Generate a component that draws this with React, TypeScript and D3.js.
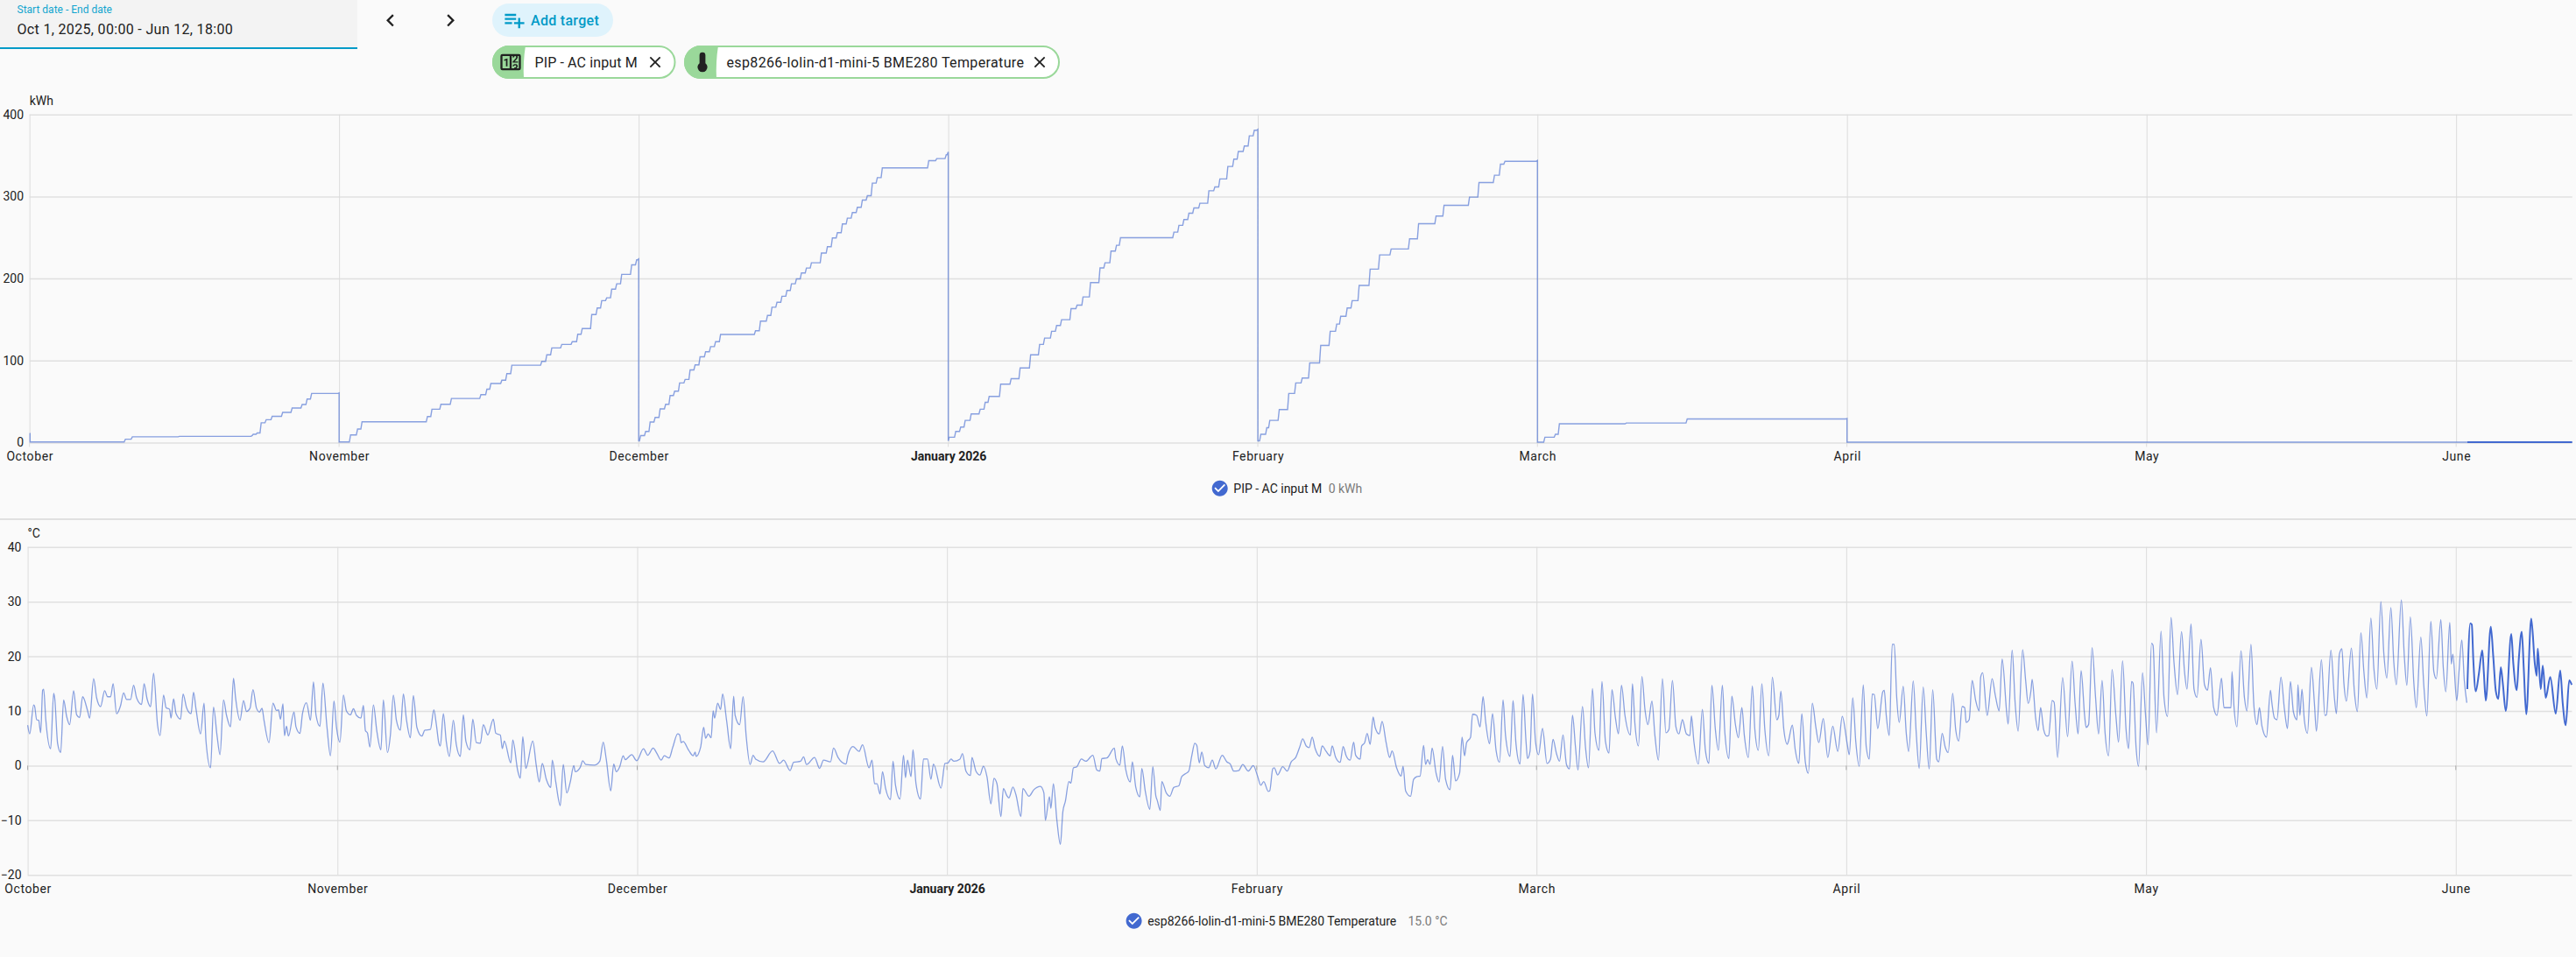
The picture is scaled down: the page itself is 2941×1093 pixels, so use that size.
// @ts-nocheck
import React from "react";
import * as d3 from "d3";

const DAY = 86400000;

// month starts shown on the time axis
const monthStarts = [[2025, 9], [2025, 10], [2025, 11], [2026, 0], [2026, 1], [2026, 2], [2026, 3], [2026, 4], [2026, 5]];
const monthLabels = ["October", "November", "December", "January 2026", "February", "March", "April", "May", "June"];
const energyTicks = [0, 100, 200, 300, 400];
const tempTicks = [-20, -10, 0, 10, 20, 30, 40];
const rangeStart = Date.UTC(2025, 9, 1);
const rangeEnd = Date.UTC(2026, 5, 12, 15);
const recentFrom = Date.UTC(2026, 5, 2, 3.6);

// energy, kWh: [days into the month, value], value holds until the next row
const energyOct = [[0, 11], [0.05, 0.7], [9.6, 4], [10.3, 7], [15, 7.5], [22.3, 8.5], [22.4, 10], [22.8, 11.7], [23.2, 24], [23.7, 27.8], [24.3, 32], [25.35, 36.7], [26.3, 42], [27.3, 46.3], [27.8, 53], [28.25, 59.8], [31, 60.5]];
const energyNov = [[0, 0.7], [1.15, 9.3], [1.85, 16.4], [2.3, 25.3], [8.85, 31.7], [9.3, 40.6], [10.2, 46.6], [11.25, 53.7], [14.2, 58.4], [14.8, 65], [15.2, 71.9], [16.3, 76], [16.8, 84], [17.3, 94.3], [20.3, 99], [20.8, 107], [21.3, 115.3], [22.3, 119.6], [23.35, 123], [23.9, 132], [24.35, 139], [25.3, 156], [25.85, 164], [26.3, 173], [26.8, 176.5], [27.3, 187], [27.8, 193.6], [28.3, 205], [29.3, 216.7], [29.8, 222.8], [30, 224]];
const energyDec = [[0, 2], [0.2, 8.5], [0.7, 13.5], [1.15, 25], [1.65, 30.6], [2.15, 41], [2.7, 46.6], [3.15, 57.3], [3.6, 62.6], [4.1, 72.6], [4.65, 76.9], [5.15, 88.6], [5.65, 94.7], [6.15, 104.6], [6.7, 110.7], [7.2, 117], [7.7, 123], [8.2, 131.7], [11.7, 136.3], [12.2, 148], [12.9, 155], [13.35, 165], [13.85, 171], [14.35, 178.3], [14.85, 185.4], [15.3, 193.6], [15.8, 199.6], [16.3, 206.8], [16.8, 212.8], [17.3, 219.2], [18.3, 231], [18.9, 238.8], [19.4, 249.5], [19.9, 255.9], [20.4, 266.5], [20.9, 273.7], [21.4, 280.4], [21.9, 286.8], [22.4, 295.7], [22.9, 301], [23.4, 316.4], [23.9, 323], [24.4, 334.9], [29.05, 343.8], [29.85, 346.3], [30.8, 351], [31, 354.4]];
const energyJan = [[0, 2], [0.1, 6.4], [0.75, 13.5], [1.25, 18.9], [1.7, 27], [2.3, 34.9], [3.2, 40.6], [3.7, 49], [4.1, 56.2], [5.25, 71.2], [6.3, 77.9], [7.2, 91], [8.25, 107], [9.15, 119.6], [9.65, 127.4], [10.35, 135.6], [10.85, 142.7], [11.35, 149.8], [12.3, 163.3], [12.9, 167.6], [13.5, 177.6], [14.25, 195], [15.2, 213], [15.7, 219.2], [16.3, 233.5], [16.85, 240.6], [17.25, 249.8], [22.6, 256.6], [23.1, 264.8], [23.6, 271.9], [24.1, 279.7], [24.6, 286], [25.2, 291.8], [26.1, 307], [26.7, 311.7], [27.2, 321.4], [28, 336.7], [28.6, 345.6], [29.05, 355], [29.65, 361.6], [30.15, 374], [30.65, 380.8], [31, 382]];
const energyFeb = [[0, 2], [0.3, 10], [0.9, 18], [1.2, 27], [2.15, 40.2], [3.1, 59.8], [3.8, 72.6], [4.45, 78.6], [5.2, 97], [6.3, 118.5], [7.25, 135.6], [7.9, 144.5], [8.3, 154], [8.95, 164], [9.45, 173], [10.15, 191.5], [11.25, 211.4], [12.2, 228.8], [13.35, 236], [15.2, 248.4], [16.1, 266.9], [17.85, 276.2], [18.65, 289.3], [21.2, 299.3], [22.15, 317], [23.7, 326], [24.3, 339.5], [24.75, 343], [28, 344]];
const energyMar = [[0, 0.5], [0.75, 6.4], [1.8, 10], [2.2, 22.8], [8.9, 23.8], [15, 28.8], [31, 29.3]];
const energyRest = [[0, 0.5], [72.6, 0.5]];

// temperature, °C: [days into the month, value]
const tempOct = [[0, 7.4], [0.2, 5.8], [0.6, 11.1], [0.7, 10.8], [0.9, 8.4], [1.1, 8.3], [1.3, 6], [1.5, 13.8], [1.6, 14], [1.8, 8.7], [2.3, 3.1], [2.6, 13.2], [2.7, 12.4], [3, 4], [3.3, 2.4], [3.6, 12], [3.9, 9], [4.2, 7.5], [4.6, 13.7], [4.9, 9.3], [5.2, 8.8], [5.5, 12.6], [6, 10], [6.2, 8.7], [6.6, 15.9], [6.9, 12.4], [7.3, 10.8], [7.7, 13.7], [8, 12.6], [8.3, 12.6], [8.55, 15], [8.9, 9.5], [9.3, 11], [9.6, 13.3], [9.9, 12.1], [10.3, 12.1], [10.6, 14.7], [10.9, 12.4], [11.4, 11.2], [11.65, 15], [11.95, 12.2], [12.3, 10.8], [12.6, 16.9], [13, 7.4], [13.25, 5.5], [13.6, 12.9], [13.85, 10.6], [14.2, 10.3], [14.35, 8.7], [14.6, 12.2], [14.85, 9.5], [15.3, 8.5], [15.55, 13.1], [15.9, 10.6], [16.35, 9.5], [16.6, 13.4], [16.85, 10.3], [17.3, 5.8], [17.65, 11.4], [17.85, 4.4], [18.3, -0.4], [18.6, 10.7], [18.95, 5.5], [19.25, 2], [19.6, 12], [19.9, 9.2], [20.3, 7.1], [20.6, 16], [20.8, 12.5], [21.25, 8.3], [21.6, 11.9], [21.9, 9.9], [22.25, 10.5], [22.55, 13.9], [22.9, 10.5], [23.2, 9.8], [23.45, 10.5], [23.65, 8.3], [24.15, 4.2], [24.55, 11.4], [24.9, 10.1], [25.1, 10.2], [25.3, 8.5], [25.55, 11.3], [25.7, 5.5], [25.9, 7.2], [26.1, 5.4], [26.65, 9.8], [26.85, 7.1], [27.25, 5.9], [27.5, 9.5], [27.9, 11.5], [28.3, 8.3], [28.6, 15.3], [28.85, 9.3], [29.25, 7.2], [29.55, 15.1], [29.95, 7.1], [30.3, 1.8], [30.65, 11.8], [30.9, 7.1]];
const tempNov = [[0.25, 4.3], [0.6, 12.9], [0.9, 10], [1.3, 9.3], [1.6, 10.4], [1.9, 9.2], [2.35, 8.7], [2.6, 11], [2.8, 6.4], [3, 6], [3.25, 3.4], [3.6, 11.1], [3.95, 6.2], [4.35, 2.9], [4.6, 12], [5, 2.4], [5.3, 5.6], [5.6, 12.9], [5.9, 8.3], [6.3, 6.5], [6.6, 13.1], [6.9, 8.5], [7.3, 5.1], [7.6, 12.8], [7.95, 7], [8.45, 5.4], [8.75, 6.5], [9.3, 6.6], [9.65, 10.2], [9.9, 7.5], [10.15, 4.1], [10.3, 3.6], [10.6, 9.5], [10.9, 4.3], [11.2, 1.7], [11.6, 8.3], [11.9, 3.8], [12.3, 1.7], [12.6, 9.3], [12.85, 4.5], [13.25, 2.9], [13.55, 8.5], [13.9, 4.2], [14.3, 4.1], [14.6, 7.5], [15.05, 5.6], [15.6, 8.5], [15.85, 5.9], [16.3, 5.6], [16.5, 3.1], [16.7, 4.5], [17.35, 0.5], [17.55, 4.7], [18.05, -1], [18.3, -2.3], [18.55, 5.3], [18.85, -0.5], [19.55, 4.5], [19.9, 0], [20.2, -3], [20.5, 0.4], [20.9, -2.5], [21.35, -4], [21.5, 1], [21.85, -3], [22.3, -7.3], [22.6, 0.2], [22.95, -5], [23.3, -3], [23.65, 0], [23.8, -1.1], [24.3, -0.3], [24.55, 0.9], [24.85, 0.2], [25.75, 0.1], [26.25, 0.8], [26.6, 4.3], [26.9, 1.2], [27.35, -4.6], [27.65, 0.3], [27.9, -1.1], [28.25, -0.2], [28.6, 1.8], [28.8, 1.1], [29.45, 2], [29.95, 0.9]];
const tempDec = [[0.63, 3.1], [1.05, 1.9], [1.6, 3.2], [1.95, 2.3], [2.4, 1], [2.7, 1.8], [3.2, 1.4], [3.55, 3.3], [4.05, 5.8], [4.25, 5.6], [4.4, 4.2], [4.6, 4.4], [5.15, 2.8], [5.6, 1.8], [5.8, 2.5], [5.9, 1.7], [6.35, 3.4], [6.65, 7], [6.85, 5], [7.1, 5.8], [7.4, 5.1], [7.6, 10], [7.75, 8.7], [8.05, 11.4], [8.35, 10.3], [8.55, 13.1], [8.95, 8.2], [9.35, 3.1], [9.65, 12.7], [9.8, 9.2], [10.25, 7.5], [10.6, 12.6], [10.9, 5.5], [11.3, 0.2], [11.6, 1.9], [11.85, 1.2], [12.6, 0.7], [13.55, 2.7], [14.25, 0.4], [14.65, 1], [15.3, -0.9], [15.65, 0.6], [16.35, 0.8], [16.65, 1.6], [16.95, 0.2], [17.75, 1.5], [18.25, -0.5], [18.65, 1], [19.35, 0.7], [19.65, 3.2], [20.1, 1.5], [20.9, 0.3], [21.1, 2], [21.6, 3.5], [22.2, 2.6], [22.55, 3.8], [23.2, -0.4], [23.5, 1], [23.75, -3.3], [24, -3.3], [24.3, -5.2], [24.55, -1.1], [24.85, -4.1], [25.35, -6.2], [25.6, 0.8], [25.85, -3.6], [26.3, -6.1], [26.65, 1.9], [26.85, -2.2], [27.05, 1], [27.4, -2], [27.6, 2.9], [27.9, -3.3], [28.35, -6.1], [28.65, 1.2], [29.05, 1.2], [29.4, -2.5], [29.65, 0.3], [30.4, -4.1], [30.8, 0.4]];
const tempJan = [[0.1, 0.5], [0.4, 1.2], [0.7, 0.8], [1.3, 1.2], [1.55, 2.2], [1.9, -1], [2.35, -1.8], [2.5, 1.5], [2.9, -1], [3.3, -1.7], [3.65, -0.1], [4, -2], [4.4, -7], [4.7, -2.3], [5, -3.3], [5.4, -9.3], [5.65, -4.2], [6, -5.5], [6.2, -5.9], [6.6, -3.9], [6.9, -5.3], [7.4, -9.3], [7.6, -4.2], [8.2, -5.6], [8.7, -4.4], [9.35, -3.8], [9.7, -5], [9.85, -10], [10.25, -5.7], [10.4, -7.8], [10.65, -3.3], [11, -10], [11.35, -14.4], [11.6, -8.4], [11.85, -6.5], [12.2, -2.9], [12.4, -3.2], [12.65, -0.4], [13, -0.2], [13.45, 1.2], [13.9, 0.8], [14.6, 1.9], [15, -0.8], [15.3, -1], [15.5, 1.3], [16, 1.4], [16.75, 3.2], [16.9, 1.3], [17.3, 0.1], [17.55, 3.6], [17.9, -0.8], [18.35, -3], [18.55, 0.7], [18.9, -4], [19.3, -5.7], [19.5, -0.5], [19.85, -4.7], [20.3, -8], [20.6, -0.2], [20.9, -5.5], [21.05, -6.4], [21.35, -8.2], [21.5, -2.9], [21.95, -5], [22.3, -5.6], [22.7, -4], [23.2, -3.7], [23.5, -2], [23.85, -1.5], [24.2, -1], [24.5, 1.8], [24.8, 4.1], [25, 3.7], [25.25, 0.5], [25.5, 2.5], [25.8, 0], [26.2, -0.4], [26.55, 1], [26.9, -0.6], [27.55, 1.9], [28, 0.7], [28.35, 0.3], [28.7, -1], [29.2, -0.9], [29.6, 0.2], [30.15, -1], [30.65, 0]];
const tempFeb = [[0.1, -2], [0.4, -3.6], [0.7, -2.9], [1.15, -4.7], [1.3, -4.6], [1.6, -0.6], [1.75, -0.4], [2.1, -1.7], [2.6, -0.2], [3.05, -1], [3.45, 0.7], [3.9, 1.5], [4.3, 3.4], [4.6, 4.9], [4.95, 3.6], [5.25, 3.3], [5.55, 5.2], [5.85, 3.1], [6.3, 1.7], [6.55, 3.6], [6.95, 2.6], [7.35, 1.8], [7.55, 3.6], [7.9, 1.5], [8.35, 0.6], [8.65, 3.5], [8.95, 1.8], [9.35, 1], [9.7, 4.3], [9.9, 1.9], [10.35, 1.2], [10.5, 3.6], [10.8, 4.2], [11.05, 5.9], [11.35, 3.9], [11.65, 8.9], [11.85, 7], [12.25, 5.8], [12.55, 8.1], [12.95, 4.2], [13.3, 1.5], [13.55, 2.7], [14, -0.4], [14.45, -1.9], [14.65, -0.1], [14.9, -4.6], [15.4, -5.6], [15.7, -2.5], [16.05, -2], [16.35, -1.9], [16.7, 3.7], [16.9, 0.2], [17.1, 1.1], [17.35, 0.2], [17.55, 3.2], [17.95, -1.4], [18.25, -3], [18.6, 3.5], [18.9, -2.5], [19.35, -4.4], [19.6, 1.9], [19.9, -2.8], [20.3, -1.4], [20.55, 5.2], [20.8, 1.8], [21, 4.2], [21.4, 5.2], [21.6, 9.4], [22, 9.2], [22.35, 7.1], [22.65, 12.6], [22.9, 8.2], [23.3, 4], [23.6, 9.5], [23.95, 2.8], [24.3, 0.6], [24.65, 12], [24.9, 5.5], [25.35, 1.7], [25.65, 11.9], [25.95, 3.9], [26.35, 0.3], [26.65, 13], [26.95, 4.4], [27.1, 1.3], [27.35, 2.6], [27.6, 13.1], [27.9, 4.4]];
const tempMar = [[0.2, 2], [0.6, 6.8], [1.05, 0.4], [1.4, 1.2], [1.65, 4.8], [2, 2.2], [2.3, 0.8], [2.65, 5.6], [3, 0.2], [3.3, -0.6], [3.6, 9.2], [3.9, 3.4], [4.15, -0.8], [4.6, 10.8], [4.9, 3.4], [5.2, -0.4], [5.6, 14.1], [5.85, 6], [6.25, 2.8], [6.55, 15.4], [6.9, 4.4], [7.25, 2.3], [7.55, 13.9], [7.9, 8.7], [8.2, 5.8], [8.5, 14.7], [8.85, 9.2], [9.4, 5.6], [9.6, 15], [9.85, 7.6], [10.2, 3.6], [10.55, 16.3], [10.85, 10.3], [11.15, 7.5], [11.55, 11.8], [11.85, 5.5], [12.2, 1], [12.6, 15.9], [12.95, 6], [13.25, 6.6], [13.6, 15.6], [13.95, 7.1], [14.25, 5.8], [14.6, 8.4], [15, 5.8], [15.35, 5.5], [15.5, 9.1], [15.75, 4.4], [16.2, 0.3], [16.6, 10.3], [16.9, 2.8], [17.25, 0.4], [17.55, 14.7], [17.9, 6.6], [18.2, 2.8], [18.6, 14.7], [18.85, 6], [19.25, 1.3], [19.55, 12.7], [19.9, 7.6], [20.2, 5.1], [20.55, 10.6], [20.8, 5.5], [21.2, 1.5], [21.6, 14.6], [21.85, 6.6], [22.2, 2.8], [22.55, 15], [22.85, 6.6], [23.25, 1.8], [23.6, 16.2], [24.05, 8.4], [24.25, 9.2], [24.45, 13.6], [24.75, 6.6], [25.1, 3.9], [25.2, 4.4], [25.6, 7.4], [25.9, 2.8], [26.25, 0.4], [26.55, 9.5], [26.9, 0.7], [27.2, -1.4], [27.6, 11.4], [27.95, 7.1], [28.25, 4.2], [28.7, 8.6], [29.15, 1.5], [29.65, 7.2], [30.15, 2.6], [30.6, 9]];
const tempApr = [[0.1, 3.9], [0.3, 2], [0.65, 12.4], [0.95, 4.4], [1.3, -0.1], [1.7, 14.8], [2, 3.4], [2.3, 1.2], [2.6, 13.1], [2.8, 13], [3.15, 6.8], [3.65, 13.5], [3.8, 13.8], [4, 9.2], [4.3, 5.5], [4.6, 22.2], [4.8, 22.2], [5.05, 12.4], [5.3, 7.9], [5.7, 14.5], [6, 6], [6.25, 2.6], [6.7, 15.5], [7, 6], [7.3, -0.5], [7.7, 14.4], [8, 6], [8.3, -0.6], [8.65, 13.9], [9.05, 1.2], [9.25, 0.7], [9.6, 5.9], [9.9, 3.4], [10.2, 2.4], [10.65, 13.2], [10.95, 6.6], [11.25, 4.5], [11.6, 10.8], [11.85, 10.6], [12, 7.9], [12.3, 8.4], [12.6, 15.6], [12.95, 11.9], [13.3, 10], [13.45, 16.2], [13.65, 17], [14.1, 9.2], [14.6, 15.9], [14.9, 13], [15.3, 10], [15.6, 19.5], [16.05, 9.8], [16.2, 7.6], [16.6, 21.1], [16.9, 11.4], [17.2, 6.3], [17.65, 21.2], [17.95, 15.6], [18.2, 11.4], [18.5, 14], [18.6, 15.8], [18.95, 8.7], [19.2, 6.4], [19.45, 10.6], [19.75, 6.6], [20.05, 5.4], [20.25, 5.5], [20.6, 11.9], [20.8, 11.6], [21.15, 1.5], [21.65, 16.1], [22.15, 5.3], [22.6, 19.1], [22.9, 11.4], [23.2, 5.8], [23.5, 17.4], [23.85, 9.2], [24, 7], [24.25, 7.5], [24.6, 21.6], [24.95, 12.4], [25.25, 5.8], [25.6, 15.6], [25.9, 6], [26.25, 1.8], [26.6, 17.6], [27, 8.7], [27.25, 4.3], [27.65, 19.2], [28, 6.6], [28.25, 3.1], [28.55, 15.4], [28.7, 15.1], [29, 3.4], [29.25, -0.1], [29.65, 17], [29.95, 9.2]];
const tempMay = [[0.2, 3.8], [0.55, 22.4], [0.7, 22], [1.05, 6], [1.5, 24.6], [1.8, 12.4], [2.15, 9], [2.5, 27.1], [2.8, 18.8], [3.15, 13], [3.55, 24.5], [3.85, 17.2], [4.1, 14], [4.5, 25.9], [4.8, 14], [5.1, 12.5], [5.5, 23.1], [5.85, 14.8], [6.15, 13.8], [6.45, 17.9], [6.75, 10.8], [7.1, 9.2], [7.55, 16], [7.8, 10.6], [8.5, 10.6], [8.6, 17.2], [8.8, 10.8], [9.1, 7.1], [9.5, 21], [9.85, 12.4], [10.1, 10], [10.5, 22.2], [10.8, 10.8], [11.1, 7.5], [11.35, 10.6], [11.6, 7.2], [12.05, 5.2], [12.45, 13.8], [12.6, 11.4], [12.85, 8.7], [13.1, 8.4], [13.5, 16.2], [13.85, 10.3], [14.15, 6.8], [14.45, 15.4], [14.75, 9.8], [15.1, 8.4], [15.2, 14.8], [15.4, 9.2], [15.6, 14], [15.85, 8.2], [16.15, 5.9], [16.55, 18], [16.85, 11.4], [17.05, 6.3], [17.55, 19.4], [17.9, 9.2], [18.05, 9.3], [18.5, 21.1], [18.85, 12.4], [19.05, 9.5], [19.35, 20.4], [19.6, 21.4], [19.8, 15.1], [20.05, 11.8], [20.55, 21.5], [20.85, 13.5], [21.15, 9.9], [21.5, 24.3], [21.8, 17.2], [22.1, 12.4], [22.5, 27], [22.8, 17.8], [23.1, 14], [23.5, 30], [23.8, 20.4], [24.1, 16], [24.5, 28.9], [24.8, 18.8], [25.05, 14.8], [25.55, 30.3], [25.85, 19.9], [26.1, 14.7], [26.45, 27.2], [26.8, 15.1], [27.05, 10.6], [27.5, 23.5], [27.8, 14.6], [28.1, 9.1], [28.5, 26.4], [28.8, 17.2], [29.05, 15.9], [29.5, 26.7], [29.75, 17.8], [30, 13.5], [30.4, 26.2], [30.55, 18.6], [30.7, 20.4]];
const tempJun = [[0.1, 11.9], [0.3, 16.7], [0.6, 23], [0.85, 15.6], [1.1, 11.5], [1.15, 14], [1.45, 26], [1.6, 25.8], [1.75, 19.4], [2, 13.6], [2.3, 16.7], [2.65, 21.1], [2.8, 17.2], [3, 11.9], [3.5, 25.4], [3.75, 19.9], [4, 13.7], [4.25, 12.2], [4.5, 18], [4.7, 15.1], [5, 10], [5.55, 24.1], [5.75, 18.8], [6.1, 13.8], [6.3, 19.4], [6.6, 24.5], [6.8, 17.8], [7.05, 9.4], [7.55, 26.9], [7.9, 18.8], [8.1, 16.4], [8.2, 21.4], [8.5, 14], [8.7, 18.3], [9, 12.4], [9.45, 16.2], [10, 9.5], [10.45, 17.4], [10.7, 11.4], [11, 7.4], [11.35, 15.6], [11.6, 14.8]];

const withDates = (rows, year, month) => rows.map(([d, v]) => ({ t: Date.UTC(year, month, 1) + d * DAY, v }));

const energyValues = [
  ...withDates(energyOct, 2025, 9), ...withDates(energyNov, 2025, 10), ...withDates(energyDec, 2025, 11),
  ...withDates(energyJan, 2026, 0), ...withDates(energyFeb, 2026, 1), ...withDates(energyMar, 2026, 2),
  ...withDates(energyRest, 2026, 3),
];
const tempValues = [
  ...withDates(tempOct, 2025, 9), ...withDates(tempNov, 2025, 10), ...withDates(tempDec, 2025, 11),
  ...withDates(tempJan, 2026, 0), ...withDates(tempFeb, 2026, 1), ...withDates(tempMar, 2026, 2),
  ...withDates(tempApr, 2026, 3), ...withDates(tempMay, 2026, 4), ...withDates(tempJun, 2026, 5),
];

const FONT = "Roboto, sans-serif";
const LINE = "#4269d0";
const PRIMARY = "#009ac7";
const GREEN = "#9ad89a";
const TEXT = "#212121";

const mdi = {
  left: "M15.41,16.58L10.83,12L15.41,7.41L14,6L8,12L14,18L15.41,16.58Z",
  right: "M8.59,16.58L13.17,12L8.59,7.41L10,6L16,12L10,18L8.59,16.58Z",
  addList: "M3 16H10V14H3M18 14V10H16V14H12V16H16V20H18V16H22V14M14 6H3V8H14M14 10H3V12H14V10Z",
  close: "M19,6.41L17.59,5L12,10.59L6.41,5L5,6.41L10.59,12L5,17.59L6.41,19L12,13.41L17.59,19L19,17.59L13.41,12L19,6.41Z",
  counter: "M4,4H20A2,2 0 0,1 22,6V18A2,2 0 0,1 20,20H4A2,2 0 0,1 2,18V6A2,2 0 0,1 4,4M4,6V18H11V6H4M20,18V6H18.76C19,6.54 18.95,7.07 18.95,7.13C18.88,7.8 18.41,8.5 18.24,8.75L15.91,11.3L19.23,11.28L19.24,12.5L14.04,12.47L14,11.47C14,11.47 17.05,8.24 17.2,7.95C17.34,7.67 17.91,6 16.5,6C15.27,6.05 15.41,7.3 15.41,7.3L13.87,7.31C13.87,7.31 13.88,6.65 14.25,6H13V18H15.58L15.57,17.14L16.54,17.13C16.54,17.13 17.45,16.97 17.46,16.08C17.5,15.08 16.65,15.08 16.5,15.08C16.37,15.08 15.43,15.13 15.43,15.95H13.91C13.91,15.95 13.95,13.89 16.5,13.89C19.1,13.89 18.96,15.91 18.96,15.91C18.96,15.91 19,17.16 17.85,17.63L18.37,18H20M8.92,16H7.42V10.2L5.62,10.76V9.53L8.76,8.41H8.92V16Z",
  thermometer: "M15 13V5A3 3 0 0 0 9 5V13A5 5 0 1 0 15 13Z",
  check: "M12 2C6.5 2 2 6.5 2 12S6.5 22 12 22 22 17.5 22 12 17.5 2 12 2M10 17L5 12L6.41 10.59L10 14.17L17.59 6.58L19 8L10 17Z",
};

const Icon = ({ d, cx, cy, size = 24, fill = TEXT }) => {
  const k = size / 24;
  return <path d={d} fill={fill} transform={`translate(${cx - 12 * k},${cy - 12 * k}) scale(${k})`} />;
};

const Chip = ({ x0, x1, split, icon, label, closeX, spacing }) => (
  <g>
    <rect x={x0 + 1} y={53} width={x1 - x0 - 2} height={36} rx={18} fill="#fff" stroke={GREEN} strokeWidth={2} />
    <path d={`M${x0 + 19},52 H${split} Q${split - 3},71 ${split - 2},90 H${x0 + 19} A19,19 0 0 1 ${x0 + 19},52 Z`} fill={GREEN} />
    <Icon d={icon} cx={x0 + 21} cy={71} size={icon === mdi.thermometer ? 27 : 28} />
    <text x={x0 + 48.5} y={76.5} fontFamily={FONT} fontSize={16} letterSpacing={spacing} fill={TEXT}>{label}</text>
    <Icon d={mdi.close} cx={closeX} cy={71} size={21.5} />
  </g>
);

// plateaus with short slanted risers; drops back to a lower value stay vertical
function stepRows(rows) {
  const out = [];
  rows.forEach((d, i) => {
    const next = rows[i + 1];
    out.push(d);
    if (next && next.v > d.v) {
      out.push({ t: Math.max(d.t, next.t - 0.12 * DAY), v: d.v });
    } else if (next) {
      out.push({ t: next.t, v: d.v });
    }
  });
  return out;
}

function drawChart(root, opts) {
  const { series, yDomain, yTicks, left, right, top, bottom, unit, labelEnd, tickColor, labelY, step, legend } = opts;
  const x = d3.scaleUtc().domain([rangeStart, rangeEnd]).range([left, right]);
  const y = d3.scaleLinear().domain(yDomain).range([bottom, top]);
  const monthTicks = monthStarts.map(([yr, m]) => Date.UTC(yr, m, 1));

  const g = root.append("g");

  // horizontal grid with y labels
  const yAxis = d3.axisLeft(y).tickValues(yTicks).tickSize(-(right - left)).tickPadding(0);
  const yGroup = g.append("g").attr("transform", `translate(${left},0)`).call(yAxis);
  yGroup.select(".domain").remove();
  yGroup.selectAll("line").attr("stroke", "#e0e0e0").attr("stroke-width", 1.5);
  yGroup.selectAll("text")
    .attr("x", labelEnd - left)
    .attr("font-family", FONT).attr("font-size", 14).attr("fill", TEXT);

  // vertical grid with month labels
  const xAxis = d3.axisBottom(x).tickValues(monthTicks).tickSize(-(bottom - top)).tickFormat((d, i) => monthLabels[i]);
  const xGroup = g.append("g").attr("transform", `translate(0,${bottom})`).call(xAxis);
  xGroup.select(".domain").remove();
  xGroup.selectAll("line").attr("stroke", "#dcdcdc");
  xGroup.selectAll("text")
    .attr("y", labelY).attr("dy", null)
    .attr("font-family", FONT).attr("font-size", 14).attr("fill", TEXT)
    .attr("letter-spacing", (d, i) => (i === 3 ? 0 : 0.6))
    .attr("font-weight", (d, i) => (i === 3 ? 700 : 400));

  // short ticks under the zero line
  g.append("g").selectAll("line").data(monthTicks).join("line")
    .attr("x1", (d) => x(d)).attr("x2", (d) => x(d))
    .attr("y1", y(0)).attr("y2", y(0) + 5)
    .attr("stroke", tickColor);

  g.append("text").attr("x", left).attr("y", top - 11)
    .attr("font-family", FONT).attr("font-size", 14).attr("fill", TEXT).text(unit);

  const line = d3.line().x((d) => x(d.t)).y((d) => y(d.v)).curve(step ? d3.curveLinear : d3.curveMonotoneX);
  const splitAt = series.findIndex((d) => d.t >= recentFrom);
  let older = series.slice(0, splitAt);
  let recent = series.slice(splitAt);
  if (step) {
    const rows = stepRows(series);
    older = rows.filter((d) => d.t < recentFrom);
    const last = older[older.length - 1];
    older = [...older, { t: recentFrom, v: last.v }];
    recent = [{ t: recentFrom, v: last.v }, { t: rangeEnd, v: last.v }];
  }
  g.append("path").attr("d", line(older)).attr("fill", "none")
    .attr("stroke", LINE).attr("stroke-width", step ? 1.4 : 1.3).attr("stroke-opacity", 0.62);
  g.append("path").attr("d", line(recent)).attr("fill", "none")
    .attr("stroke", LINE).attr("stroke-width", 2);

  // legend
  const lg = g.append("g");
  lg.append("circle").attr("cx", legend.x).attr("cy", legend.y).attr("r", 6).attr("fill", "#fff");
  lg.append("path").attr("d", mdi.check).attr("fill", LINE)
    .attr("transform", `translate(${legend.x - 10.8},${legend.y - 10.8}) scale(0.9)`);
  lg.append("text").attr("x", legend.x + 15.6).attr("y", legend.y + 5)
    .attr("font-family", FONT).attr("font-size", 14).attr("fill", TEXT).text(legend.name);
  lg.append("text").attr("x", legend.valueX).attr("y", legend.y + 5)
    .attr("font-family", FONT).attr("font-size", 14).attr("fill", "#7a7a7a").text(legend.value);
}

export default function App() {
  const chartsRef = React.useRef(null);

  React.useEffect(() => {
    const root = d3.select(chartsRef.current);
    root.selectAll("*").remove();
    drawChart(root, {
      series: energyValues, yDomain: [0, 400], yTicks: energyTicks,
      left: 33.7, right: 2936.7, top: 130.8, bottom: 505.4,
      unit: "kWh", labelEnd: 27, tickColor: "#dcdcdc", labelY: 20.3, step: true,
      legend: { x: 1392.7, y: 557.7, name: "PIP - AC input M", valueX: 1516.7, value: "0 kWh" },
    });
    drawChart(root, {
      series: tempValues, yDomain: [-20, 40], yTicks: tempTicks,
      left: 31.6, right: 2936.4, top: 624.7, bottom: 999.3,
      unit: "°C", labelEnd: 24.5, tickColor: "#a8a8a8", labelY: 20.7, step: false,
      legend: { x: 1294.6, y: 1051.8, name: "esp8266-lolin-d1-mini-5 BME280 Temperature", valueX: 1607.4, value: "15.0 °C" },
    });
  }, []);

  return (
    <>
      <style>{"body{margin:0;background:#fafafa}"}</style>
      <svg width={2941} height={1093} style={{ display: "block", background: "#fafafa" }}>
        <rect x={0} y={0} width={408} height={54} fill="#f3f3f3" />
        <rect x={0} y={54} width={408} height={2} fill={PRIMARY} />
        <text x={19.5} y={15} fontFamily={FONT} fontSize={12} fill="#12a5cf">Start date - End date</text>
        <text x={19.5} y={39} fontFamily={FONT} fontSize={16} letterSpacing={0.33} fill={TEXT}>Oct 1, 2025, 00:00 - Jun 12, 18:00</text>

        <Icon d={mdi.left} cx={445.7} cy={23.3} size={28} />
        <Icon d={mdi.right} cx={514.3} cy={23.3} size={28} />

        <rect x={562} y={4} width={138} height={38} rx={19} fill="#dff3fc" />
        <Icon d={mdi.addList} cx={586.9} cy={22.8} size={28} fill={PRIMARY} />
        <text x={606} y={29} fontFamily={FONT} fontSize={16} fontWeight={500} letterSpacing={0.3} fill={PRIMARY}>Add target</text>

        <Chip x0={562} x1={771.5} split={600} icon={mdi.counter} label="PIP - AC input M" closeX={748} spacing={0.12} />
        <Chip x0={781} x1={1210} split={820} icon={mdi.thermometer} label="esp8266-lolin-d1-mini-5 BME280 Temperature" closeX={1187} spacing={0.36} />

        <rect x={0} y={592} width={2941} height={2} fill="#e0e0e0" />
        <g ref={chartsRef} />
      </svg>
    </>
  );
}
